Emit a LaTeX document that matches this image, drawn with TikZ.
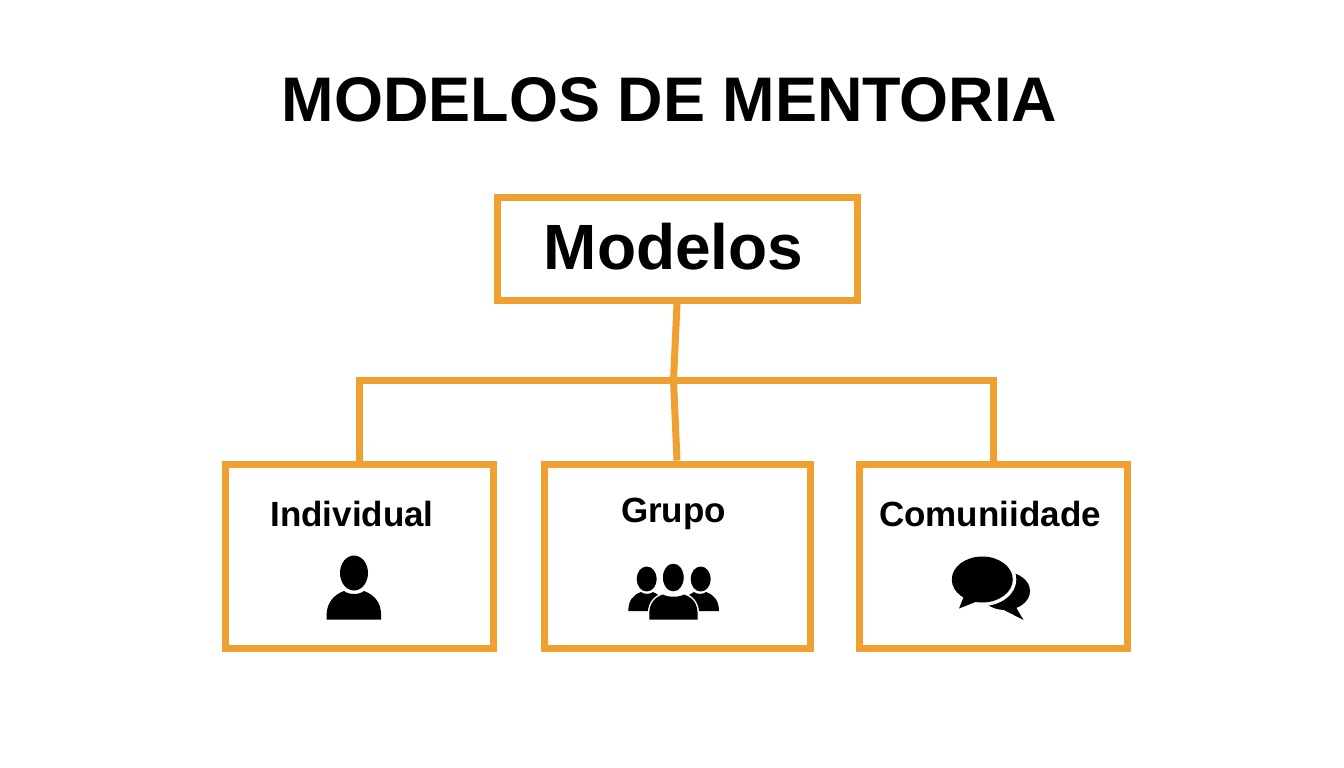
\documentclass[tikz,border=0pt]{standalone}
\usepackage{fontspec}
\setmainfont{Liberation Sans}
\definecolor{boxorange}{HTML}{F0A030}
\tikzset{
  boxstyle/.style={draw=boxorange,line width=7pt,fill=white,inner sep=0pt,anchor=north west},
  link/.style={draw=boxorange,line width=7pt},
  lab/.style={font=\bfseries\fontsize{35}{35}\selectfont,text=black,inner sep=0pt},
  ink/.style={fill=black,draw=none},
  gap/.style={fill=black,draw=white,line width=3pt}
}
\begin{document}
\begin{tikzpicture}[x=1pt,y=-1pt]
\useasboundingbox (0,0) rectangle (1344,768);
\fill[white] (0,0) rectangle (1344,768);
\node[inner sep=0pt,font=\bfseries\fontsize{63}{63}\selectfont,xscale=1.0] (title) at (669.5,100) {MODELOS DE MENTORIA};
\node[boxstyle,minimum width=360pt,minimum height=103pt] (top) at (493.5,194) {};
\node[boxstyle,minimum width=268pt,minimum height=184pt] (ind) at (221.5,460.5) {};
\node[boxstyle,minimum width=266pt,minimum height=184pt] (gru) at (540.5,460.5) {};
\node[boxstyle,minimum width=268pt,minimum height=184pt] (com) at (855.5,460.5) {};
\node[font=\bfseries\fontsize{64}{64}\selectfont,inner sep=0pt] (toplab) at (673.5,247) {Modelos};
\node[lab] (indlab) at (352,514) {Individual};
\node[lab] (grulab) at (673.5,514) {Grupo};
\node[lab] (comlab) at (990,514) {Comuniidade};
\coordinate (bus) at (673.5,380.5);
\draw[link] (top.south) -- (bus);
\draw[link] (gru.north) -- (bus);
\draw[link,line cap=rect] (ind.north) |- (bus) -| (com.north);
% person icon
\fill[ink] (354,573) ellipse [x radius=14,y radius=17.5];
\fill[ink] (326.7,619.5) -- (326.7,613) .. controls (327.5,603) and (333,595) .. (344,591)
  .. controls (349,595) and (359,595) .. (364,591)
  .. controls (375,595) and (380.5,603) .. (381,613) -- (381,619.5) -- cycle;
% group icon
\fill[ink] (646.7,579) ellipse [x radius=10,y radius=12.5];
\fill[ink] (700.7,579) ellipse [x radius=10,y radius=12.5];
\fill[ink] (628.3,611) .. controls (628.5,600) and (633,595) .. (641,592)
  .. controls (644,594.5) and (650,594.5) .. (653,592) -- (668,600) -- (668,611) -- cycle;
\fill[ink] (719,611) .. controls (718.8,600) and (714,595) .. (706,592)
  .. controls (703,594.5) and (697,594.5) .. (694,592) -- (680,600) -- (680,611) -- cycle;
\filldraw[gap] (649.3,619.5) -- (649.3,612) .. controls (650,603) and (655,597) .. (663,594.5)
  .. controls (668,597.5) and (679,597.5) .. (684,594.5)
  .. controls (692,597) and (697,603) .. (697.5,612) -- (697.5,619.5) -- cycle;
\fill[ink] (649.3,619.5) -- (649.3,612) .. controls (650,603) and (655,597) .. (663,594.5)
  .. controls (668,597.5) and (679,597.5) .. (684,594.5)
  .. controls (692,597) and (697,603) .. (697.5,612) -- (697.5,619.5) -- cycle;
\filldraw[gap,line width=4pt] (673.3,577.5) ellipse [x radius=12.5,y radius=16];
% chat icon
\fill[ink] (1005,591) ellipse [x radius=25,y radius=19];
\fill[ink] (1014,604) -- (1023.5,620) -- (1004,610) -- cycle;
\fill[white] (982.3,579.5) ellipse [x radius=34,y radius=26.5];
\fill[ink] (982.3,579.5) ellipse [x radius=30.5,y radius=23];
\fill[ink] (964,596) -- (959,608.5) -- (978,601) -- cycle;
\end{tikzpicture}
\end{document}
